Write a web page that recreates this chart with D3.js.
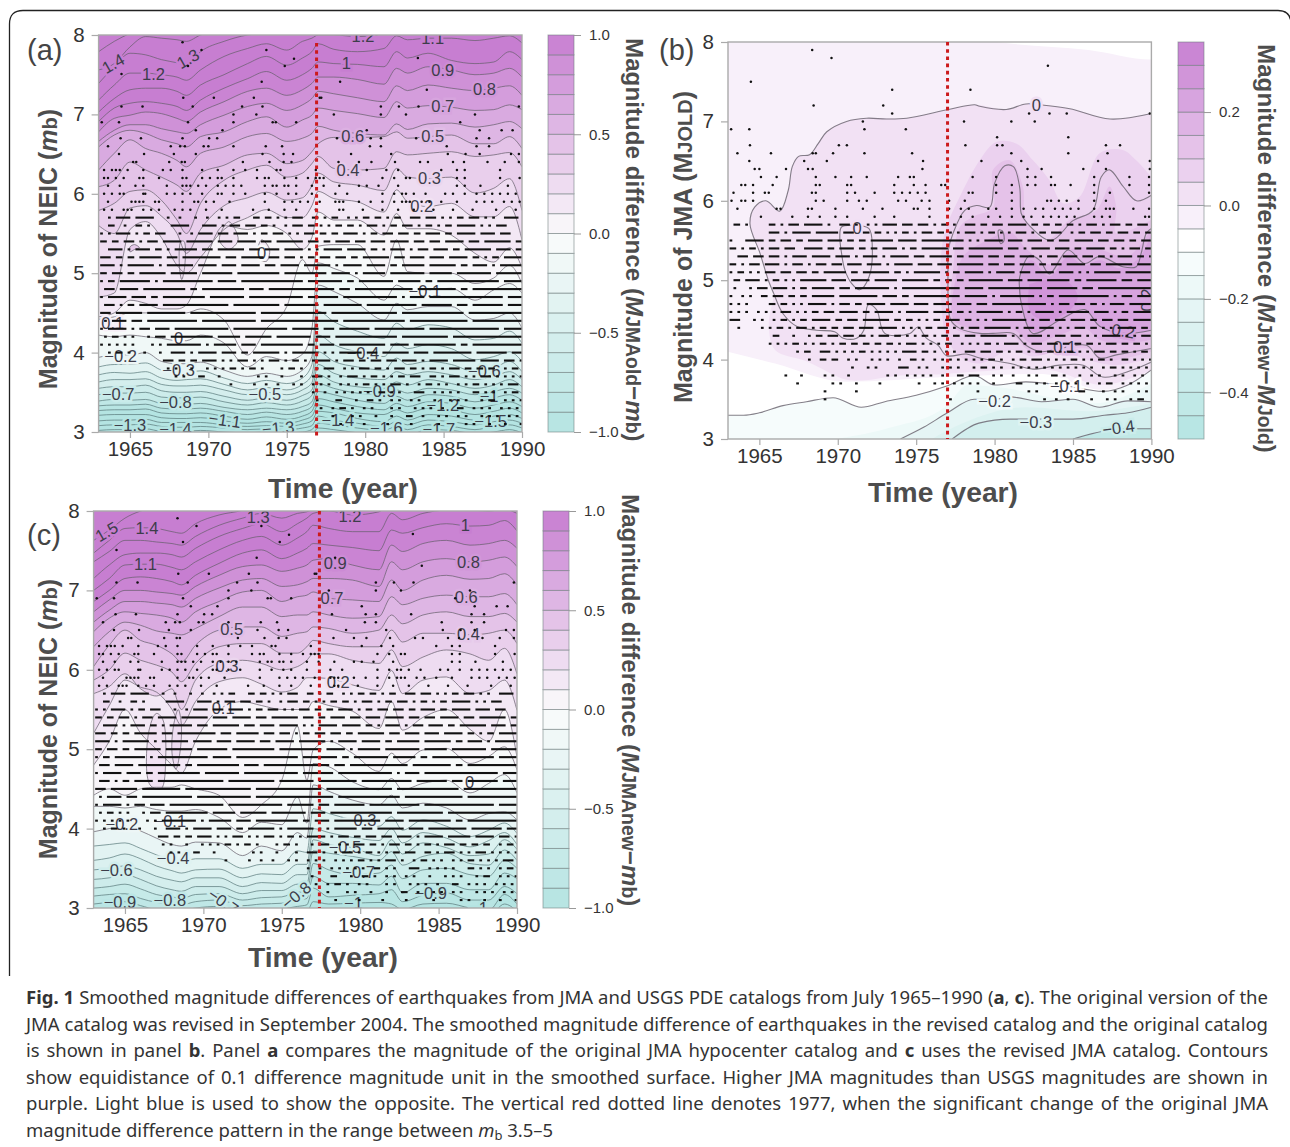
<!DOCTYPE html>
<html lang="en">
<head>
<meta charset="UTF-8">
<title>Fig. 1 Smoothed magnitude differences</title>
<script src="https://d3js.org/d3.v7.min.js"></script>
<style>
  html, body { margin: 0; background: #fff; }
  svg { display: block; }
  text { font-family: "Liberation Sans", Arial, sans-serif; }
  .tick text { fill: #333; }
  .caption text { font-family: "Noto Sans", sans-serif; font-size: 18.5px; fill: #333; }
</style>
</head>
<body>
<div id="chart"></div>
<script>
// ---- data ----
const yearTicks = [1965, 1970, 1975, 1980, 1985, 1990];
const magTicks = [3, 4, 5, 6, 7, 8];
const cols = [1963,1964,1965,1966,1967,1968,1968.6,1969.5,1971,1972.5,1973.7,1975,1976,1976.6,1977,1978,1979.5,1981.2,1982,1982.7,1984,1985.5,1987,1988.2,1989.2,1990];

// panel a: magnitude of each contour level at the years in cols
const levelsA = [1.5,1.4,1.3,1.2,1.1,1.0,0.9,0.8,0.7,0.6,0.5,0.4,0.3,0.2,0.1,0,-0.1,-0.2,-0.3,-0.4,-0.5,-0.6,-0.7,-0.8,-0.9,-1.0,-1.1,-1.2,-1.3,-1.4,-1.5,-1.6];
const magsA = [
[7.79,7.92,8.02,8.1,8.15,8.15,8.15,8.15,8.15,8.15,8.15,8.15,8.15,8.15,8.15,8.15,8.15,8.15,8.15,8.15,8.15,8.15,8.15,8.15,8.15,8.15],
[7.56,7.64,7.85,7.98,7.96,7.94,7.92,8.0,8.06,8.12,8.15,8.15,8.15,8.15,8.15,8.15,8.15,8.15,8.15,8.15,8.15,8.15,8.15,8.15,8.15,8.15],
[7.39,7.6,7.77,7.75,7.69,7.65,7.62,7.79,7.92,8.0,8.02,8.05,8.05,8.05,8.08,8.1,8.1,8.1,8.15,8.15,8.15,8.15,8.15,8.15,8.15,8.15],
[7.18,7.37,7.52,7.52,7.5,7.47,7.43,7.56,7.73,7.83,7.89,7.81,7.92,7.96,8.0,8.0,7.98,8.02,8.1,8.1,8.1,8.1,8.1,8.1,8.1,8.1],
[7.03,7.2,7.31,7.33,7.33,7.29,7.24,7.37,7.5,7.64,7.73,7.62,7.71,7.79,7.89,7.82,7.79,7.83,7.99,7.94,7.96,7.96,7.93,7.96,7.99,7.9],
[6.91,7.08,7.14,7.16,7.14,7.1,7.05,7.18,7.33,7.45,7.54,7.43,7.5,7.58,7.66,7.64,7.63,7.6,7.79,7.71,7.77,7.68,7.64,7.66,7.79,7.69],
[6.78,6.95,6.99,7.03,7.01,6.95,6.91,7.03,7.16,7.29,7.33,7.24,7.31,7.39,7.47,7.47,7.44,7.38,7.58,7.52,7.6,7.56,7.5,7.52,7.58,7.47],
[6.66,6.8,6.87,6.87,6.82,6.78,6.76,6.87,6.99,7.1,7.14,7.05,7.12,7.2,7.29,7.26,7.21,7.16,7.36,7.3,7.37,7.33,7.3,7.33,7.36,7.24],
[6.59,6.74,6.8,6.76,6.68,6.63,6.59,6.72,6.78,6.91,6.97,6.84,6.93,6.99,7.08,7.05,7.01,6.96,7.16,7.08,7.11,7.09,7.05,7.06,7.12,7.06],
[6.3,6.51,6.68,6.57,6.51,6.42,6.34,6.51,6.59,6.72,6.76,6.66,6.7,6.76,6.85,6.8,6.76,6.74,6.88,6.81,6.88,6.89,6.84,6.87,6.91,6.82],
[6.09,6.17,6.4,6.3,6.21,6.11,6.03,6.26,6.36,6.49,6.51,6.38,6.42,6.53,6.63,6.71,6.71,6.72,6.78,6.7,6.72,6.74,6.63,6.63,6.72,6.57],
[5.79,5.88,6.03,6.05,5.92,5.67,5.5,5.88,6.17,6.3,6.36,6.21,6.26,6.38,6.47,6.32,6.3,6.32,6.53,6.49,6.51,6.53,6.47,6.49,6.52,6.34],
[5.6,5.5,5.82,5.85,5.72,5.5,5.25,5.55,5.85,5.95,6.02,5.92,5.95,6.1,6.26,6.15,6.11,6.04,6.32,6.21,6.19,6.21,6.01,6.07,6.19,5.79],
[4.7,4.75,5.55,5.65,5.45,5.1,5.0,5.2,5.55,5.7,5.8,5.7,5.7,5.85,6.03,5.94,5.9,5.77,6.05,5.9,5.84,5.88,5.71,5.71,5.84,5.42],
[4.45,4.5,4.66,4.62,4.55,4.55,4.6,5.0,5.6,5.55,5.6,5.5,5.3,5.45,5.77,5.67,5.67,5.48,5.75,5.56,5.56,5.48,5.25,5.14,5.32,5.07],
[4.42,4.45,4.5,4.5,4.5,4.5,4.5,4.55,4.41,3.97,4.3,4.58,5.17,5.0,5.34,5.36,5.36,4.96,5.42,5.02,5.0,5.0,4.87,4.94,5.1,4.87],
[4.22,4.2,4.22,4.2,4.18,4.15,4.15,4.22,4.12,3.82,3.95,3.9,3.98,4.3,5.13,5.06,4.94,4.66,4.85,4.79,4.79,4.81,4.66,4.79,4.87,4.75],
[3.94,3.97,3.97,4.0,3.89,3.86,3.86,3.88,3.78,3.7,3.74,3.7,3.78,3.95,4.85,4.77,4.62,4.41,4.62,4.54,4.58,4.58,4.41,4.43,4.5,4.31],
[3.82,3.85,3.85,3.87,3.78,3.75,3.75,3.77,3.68,3.61,3.65,3.61,3.68,3.85,4.52,4.39,4.27,4.18,4.37,4.29,4.35,4.31,4.16,4.18,4.27,4.12],
[3.72,3.75,3.74,3.76,3.68,3.65,3.66,3.67,3.6,3.53,3.56,3.53,3.6,3.72,4.22,4.1,4.01,3.95,4.12,4.05,4.1,4.05,3.91,3.95,4.01,3.89],
[3.63,3.66,3.66,3.67,3.6,3.58,3.58,3.59,3.53,3.47,3.5,3.47,3.53,3.62,4.01,3.89,3.82,3.78,3.93,3.85,3.89,3.85,3.76,3.8,3.89,3.76],
[3.55,3.57,3.57,3.59,3.52,3.5,3.5,3.51,3.45,3.4,3.43,3.4,3.46,3.53,3.85,3.74,3.68,3.66,3.76,3.72,3.76,3.72,3.66,3.7,3.76,3.66],
[3.47,3.49,3.49,3.5,3.44,3.43,3.43,3.44,3.38,3.34,3.37,3.34,3.39,3.46,3.72,3.63,3.57,3.55,3.63,3.59,3.66,3.61,3.55,3.59,3.66,3.57],
[3.39,3.41,3.4,3.41,3.36,3.35,3.35,3.36,3.31,3.28,3.3,3.28,3.32,3.38,3.61,3.55,3.49,3.47,3.53,3.49,3.55,3.53,3.47,3.51,3.55,3.49],
[3.33,3.34,3.34,3.35,3.3,3.29,3.29,3.3,3.26,3.22,3.25,3.22,3.26,3.32,3.51,3.47,3.4,3.36,3.45,3.4,3.47,3.45,3.38,3.43,3.47,3.4],
[3.27,3.28,3.28,3.29,3.24,3.23,3.23,3.24,3.2,3.16,3.19,3.16,3.2,3.26,3.42,3.38,3.32,3.28,3.36,3.32,3.38,3.36,3.3,3.34,3.38,3.32],
[3.21,3.22,3.22,3.22,3.18,3.17,3.17,3.18,3.14,3.11,3.13,3.11,3.15,3.2,3.34,3.3,3.24,3.22,3.28,3.24,3.3,3.28,3.22,3.26,3.3,3.24],
[3.14,3.15,3.15,3.16,3.12,3.12,3.12,3.12,3.09,3.07,3.08,3.07,3.1,3.14,3.26,3.24,3.17,3.13,3.2,3.15,3.22,3.2,3.15,3.2,3.22,3.17],
[3.08,3.09,3.09,3.1,3.07,3.06,3.06,3.07,3.05,3.03,3.04,3.03,3.05,3.08,3.2,3.15,3.11,3.07,3.13,3.09,3.15,3.13,3.09,3.13,3.15,3.11],
[3.02,3.03,3.03,3.04,3.01,3.01,3.01,3.02,3.0,2.99,3,2.99,3,3.03,3.11,3.09,3.05,3.02,3.07,3.03,3.09,3.07,3.03,3.07,3.09,3.05],
[2.96,2.97,2.97,2.98,2.95,2.95,2.95,2.96,2.95,2.94,2.95,2.94,2.95,2.97,3.05,3.03,2.99,2.96,3.0,2.96,3.03,3.02,2.98,3.0,3.03,2.99],
[2.9,2.9,2.9,2.9,2.9,2.9,2.9,2.9,2.9,2.9,2.9,2.9,2.9,2.92,2.99,2.98,2.94,2.92,2.95,2.92,2.97,2.96,2.93,2.95,2.97,2.94]
];
const islandsA = [
  [0.35, [[1965,5.27],[1965.3,5.3],[1965.6,5.32],[1965.3,5.36],[1965,5.33]]],
  [0.2, [[1968.3,4.92],[1968.5,5.1],[1968.45,5.4],[1968.25,5.4],[1968.15,5.1]]],
  [0.15, [[1970.7,5.42],[1971.3,5.3],[1971.9,5.42],[1971.3,5.65]]],
  [0.1, [[1973.1,5.2],[1973.7,5.15],[1973.9,5.3],[1973.4,5.42]]]
];

// panel c
const levelsC = [1.5,1.4,1.3,1.2,1.1,1.0,0.9,0.8,0.7,0.6,0.5,0.4,0.3,0.2,0.1,0,-0.1,-0.2,-0.3,-0.4,-0.5,-0.6,-0.7,-0.8,-0.9,-1.0,-1.1];
const magsC = [
[7.63,7.76,7.91,8.0,8.05,8.1,8.1,8.1,8.15,8.15,8.15,8.15,8.15,8.15,8.15,8.15,8.15,8.15,8.15,8.15,8.15,8.15,8.15,8.15,8.15,8.15],
[7.47,7.63,7.78,7.79,7.78,7.74,7.72,7.84,7.95,8.01,8.1,8.1,8.1,8.1,8.1,8.15,8.15,8.15,8.15,8.15,8.15,8.15,8.15,8.15,8.15,8.15],
[7.36,7.49,7.63,7.63,7.61,7.59,7.57,7.68,7.82,7.91,7.97,7.91,7.97,7.99,8.02,8.1,8.1,8.1,8.1,8.1,8.1,8.1,8.1,8.1,8.1,8.1],
[7.15,7.32,7.45,7.47,7.47,7.45,7.42,7.53,7.68,7.78,7.84,7.74,7.84,7.91,7.97,8.0,7.95,7.99,8.1,8.1,8.1,8.1,8.1,8.1,8.1,8.1],
[7.0,7.15,7.32,7.33,7.33,7.29,7.26,7.36,7.51,7.63,7.68,7.57,7.66,7.74,7.82,7.78,7.74,7.74,7.97,7.89,7.97,8.01,8.01,8.0,8.02,7.97],
[6.86,7.0,7.15,7.17,7.15,7.11,7.07,7.19,7.34,7.47,7.51,7.4,7.47,7.53,7.59,7.57,7.54,7.5,7.76,7.72,7.79,7.84,7.81,7.82,7.88,7.75],
[6.73,6.88,7.0,7.0,6.98,6.96,6.94,7.05,7.19,7.3,7.32,7.24,7.28,7.32,7.38,7.4,7.32,7.26,7.57,7.49,7.59,7.63,7.57,7.59,7.63,7.53],
[6.6,6.75,6.86,6.86,6.84,6.82,6.79,6.9,7.03,7.13,7.15,7.05,7.07,7.11,7.15,7.15,7.13,7.05,7.36,7.26,7.36,7.4,7.36,7.38,7.42,7.3],
[6.48,6.65,6.73,6.71,6.69,6.65,6.6,6.73,6.86,6.98,7.0,6.86,6.92,6.94,6.98,6.9,6.88,6.86,7.13,7.0,7.13,7.19,7.14,7.15,7.21,7.07],
[6.29,6.48,6.6,6.56,6.49,6.46,6.44,6.52,6.67,6.79,6.79,6.67,6.69,6.69,6.73,6.69,6.65,6.67,6.92,6.82,6.9,6.94,6.92,6.92,6.96,6.82],
[6.04,6.31,6.5,6.37,6.31,6.2,6.1,6.31,6.5,6.54,6.54,6.42,6.46,6.48,6.54,6.52,6.46,6.5,6.69,6.58,6.69,6.73,6.67,6.67,6.71,6.6],
[5.87,6.0,6.21,6.12,6.06,5.97,5.85,6.08,6.29,6.33,6.33,6.21,6.21,6.29,6.37,6.33,6.29,6.29,6.5,6.35,6.46,6.46,6.44,6.46,6.5,6.33],
[5.7,5.79,5.95,5.76,5.67,5.76,5.5,5.87,6.08,6.12,6.08,6.0,6.04,6.12,6.2,6.2,6.12,6.08,6.25,6.04,6.16,6.25,6.2,6.12,6.27,5.95],
[5.2,5.55,5.87,5.78,5.72,5.5,5.3,5.6,5.85,5.9,5.82,5.72,5.78,5.9,5.9,5.89,5.81,5.74,5.99,5.7,5.87,5.91,5.7,5.74,5.87,5.49],
[4.8,5.1,5.5,5.2,5.0,4.8,4.7,5.1,5.5,5.6,5.55,5.5,5.5,5.5,5.6,5.55,5.48,5.26,5.6,5.24,5.4,5.5,5.25,5.1,5.5,4.9],
[4.42,4.5,4.42,4.5,4.52,4.52,4.55,4.5,4.42,4.14,4.3,4.61,5.29,4.61,4.99,5.1,4.95,4.72,4.95,4.82,4.99,5.01,4.82,4.91,5.03,4.74],
[4.28,4.28,4.26,4.28,4.24,4.22,4.22,4.24,4.14,3.95,4.08,4.05,4.4,4.07,4.82,4.78,4.59,4.49,4.63,4.49,4.57,4.61,4.45,4.57,4.68,4.45],
[3.96,4.0,4.03,3.97,3.88,3.8,3.78,3.83,3.82,3.66,3.78,3.72,3.95,3.88,4.55,4.47,4.36,4.3,4.42,4.26,4.32,4.26,4.11,4.19,4.21,4.11],
[3.78,3.8,3.82,3.75,3.67,3.6,3.58,3.62,3.62,3.5,3.55,3.55,3.72,3.7,4.25,4.19,4.11,4.03,4.15,3.98,4.11,4.03,3.9,3.98,4.07,3.94],
[3.6,3.63,3.68,3.62,3.53,3.47,3.44,3.48,3.49,3.38,3.43,3.42,3.55,3.55,4.0,3.95,3.89,3.85,4.0,3.82,3.95,3.88,3.77,3.85,3.95,3.8],
[3.48,3.5,3.53,3.48,3.4,3.35,3.33,3.38,3.38,3.27,3.32,3.31,3.42,3.42,3.86,3.8,3.76,3.66,3.86,3.68,3.82,3.76,3.66,3.68,3.86,3.74],
[3.36,3.38,3.42,3.36,3.28,3.23,3.21,3.27,3.27,3.18,3.22,3.22,3.3,3.3,3.72,3.69,3.65,3.6,3.71,3.54,3.65,3.69,3.56,3.54,3.73,3.6],
[3.25,3.27,3.3,3.24,3.17,3.14,3.12,3.17,3.18,3.1,3.13,3.14,3.2,3.2,3.56,3.48,3.42,3.44,3.54,3.37,3.48,3.5,3.42,3.4,3.6,3.5],
[3.15,3.17,3.18,3.12,3.07,3.05,3.04,3.08,3.1,3.03,3.05,3.06,3.1,3.12,3.4,3.31,3.31,3.29,3.4,3.19,3.31,3.31,3.23,3.23,3.44,3.37],
[3.05,3.07,3.08,3.03,2.98,2.97,2.97,3.0,3.02,2.97,2.98,2.99,3.02,3.04,3.25,3.14,3.16,3.18,3.23,3.08,3.16,3.19,3.1,3.1,3.27,3.18],
[2.95,2.96,2.97,2.95,2.92,2.92,2.92,2.93,2.94,2.92,2.93,2.93,2.95,2.95,3.08,3.05,3.06,3.07,3.05,2.98,3.05,3.06,3.0,2.97,3.17,3.05],
[2.88,2.88,2.88,2.88,2.88,2.88,2.88,2.88,2.88,2.88,2.88,2.88,2.88,2.88,2.97,2.95,2.95,2.95,2.95,2.9,2.95,2.95,2.92,2.9,3.05,2.96]
];
const islandsC = [
  [0.2, [[1968.25,4.75],[1968.5,4.95],[1968.6,5.3],[1968.4,5.5],[1968.1,5.3],[1968,4.95]]],
  [0.15, [[1966.6,4.55],[1967.3,4.5],[1967.6,4.9],[1967.4,5.38],[1967,5.45],[1966.5,5.2]]]
];

// panel b: contour lines as [year, magnitude]
const zeroLineB = [[1990,7.1],[1987.36,7.03],[1984.8,7.16],[1983.3,7.2],[1982,7.22],[1980.75,7.15],[1979.05,7.19],[1978.73,7.21],[1977.05,7.15],[1974.4,7.04],[1973.1,7.03],[1971.83,7.04],[1970.56,7.0],[1969.3,6.87],[1968.75,6.72],[1968.2,6.58],[1967.5,6.56],[1967.1,6.43],[1966.84,6.13],[1966.3,5.87],[1965.42,6.0],[1964.7,5.92],[1964.4,5.71],[1965.04,5.34],[1965.57,5.0],[1965.9,4.84],[1966.5,4.58],[1967.37,4.42],[1968.65,4.37],[1969.8,4.35],[1970.35,4.27],[1971.2,4.27],[1971.66,4.37],[1971.94,4.69],[1972.47,4.63],[1973,4.33],[1974.6,4.33],[1975.12,4.41],[1975.65,4.27],[1976.4,4.18],[1976.93,4.05],[1978.2,4.07],[1979.05,4.02],[1981,3.95],[1982.45,3.88],[1984.15,3.93],[1985.65,3.93],[1986.9,3.78],[1988.8,3.87],[1990,3.97]];
const islandZeroB = [[1970.13,5.55],[1970.24,5.67],[1971.1,5.69],[1971.99,5.65],[1972.2,5.42],[1971.99,5.04],[1971.4,4.88],[1970.88,4.96],[1970.45,5.13],[1970.24,5.34]];
const tenthLineB = [[1990,6.07],[1989.05,6.0],[1988.2,6.18],[1987.33,6.39],[1986.8,6.3],[1986.27,5.88],[1985,5.75],[1983.6,5.5],[1982.03,5.73],[1981.7,5.84],[1981.6,6.17],[1981.2,6.43],[1980.65,6.44],[1980,6.22],[1979.7,5.92],[1978.84,5.94],[1978.1,5.88],[1977.35,5.59],[1977.05,5.38],[1977.03,5.13],[1977.05,4.71],[1977.2,4.5],[1977.8,4.39],[1979.05,4.33],[1979.9,4.33],[1981.2,4.33],[1982,4.18],[1982.9,4.1],[1983.75,4.12],[1985.85,4.18],[1986.7,4.02],[1987.76,4.06],[1990,4.14]];
const tinyLoopB = [[1980.25,5.63],[1980.5,5.62],[1980.6,5.5],[1980.4,5.46],[1980.25,5.55]];
const fifthLineB = [[1990,5.65],[1989.67,5.59],[1989.35,5.34],[1989.03,5.17],[1988.18,5.17],[1986.7,5.3],[1985.74,5.21],[1984.68,5.38],[1983.5,5.08],[1982.88,5.25],[1982.24,5.31],[1981.6,5.04],[1981.6,4.88],[1981.7,4.71],[1982.45,4.33],[1984.15,4.5],[1985.74,4.63],[1986.7,4.42],[1988.18,4.33],[1990,4.37]];
const minus1LineB = [[1963,3.3],[1964,3.3],[1965,3.33],[1966.5,3.42],[1968,3.47],[1969.7,3.52],[1971.5,3.4],[1973,3.47],[1975,3.55],[1977,3.67],[1978.7,3.8],[1980,3.68],[1982,3.72],[1984.5,3.67],[1986.9,3.6],[1988.5,3.68],[1990,3.87]];
const minus2LineB = [[1974,3],[1975.5,3.15],[1977,3.33],[1978.7,3.5],[1980,3.5],[1981,3.53],[1983,3.47],[1985,3.5],[1986.7,3.4],[1988.5,3.48],[1990,3.47]];
const minus3LineB = [[1977.3,3],[1979,3.2],[1981,3.25],[1985,3.25],[1987,3.3],[1988.5,3.33],[1990,3.4]];
const minus4LineB = [[1985,3.0],[1987,3.1],[1988.5,3.13],[1990,3.13]];

// panel b filled regions, value is the middle of the colour band
const fillValuesB = [0.025, 0.075, 0.125, 0.175, 0.225, 0.275];
const fillRegionsB = [
  [[1990,7.1],[1987.36,7.03],[1984.8,7.16],[1982,7.22],[1980.75,7.15],[1978.73,7.21],[1977.05,7.15],[1974.4,7.04],[1971.83,7.04],[1970.56,7.0],[1969.3,6.87],[1968.2,6.58],[1967.5,6.56],[1967.1,6.43],[1966.84,6.13],[1966.3,5.87],[1965.42,6.0],[1964.7,5.92],[1964.4,5.71],[1965.04,5.34],[1965.57,5.0],[1965.9,4.84],[1965.6,4.45],[1966,4.12],[1968,3.98],[1970.5,3.75],[1971.7,3.74],[1974,3.8],[1977,3.82],[1979,3.85],[1983.5,3.87],[1986.9,3.68],[1990,3.87]],
  [[1990,6.3],[1989.03,6.51],[1988.18,6.64],[1986.7,6.6],[1985.42,6.05],[1984.36,5.97],[1983.5,6.26],[1982.45,6.51],[1981.4,6.72],[1980.1,6.74],[1979.05,6.51],[1977.78,6.05],[1976.93,5.67],[1976.6,5.34],[1976.6,4.71],[1976.93,4.29],[1977.78,4.04],[1979.05,3.95],[1981,4.12],[1982.45,4.04],[1984.15,4.1],[1986.27,3.98],[1987.76,3.93],[1990,4.02]],
  [[1990,5.76],[1987.76,5.59],[1987.76,5.92],[1987.33,6.18],[1986.5,5.88],[1984.8,5.76],[1983.3,5.5],[1982,5.76],[1981.8,6.18],[1980.96,6.51],[1979.9,6.39],[1979.9,5.92],[1978.63,5.8],[1977.78,5.67],[1977.35,5.13],[1977.18,4.71],[1977.35,4.42],[1979.05,4.29],[1981.2,4.29],[1982,4.14],[1982.88,4.06],[1984.15,4.12],[1986.27,4.12],[1986.7,3.99],[1990,4.1]],
  [[1990,5.65],[1988.5,5.3],[1986.5,5.4],[1985,5.4],[1983.5,5.2],[1982,5.4],[1981,5.6],[1979.5,5.5],[1978,5.3],[1977.5,5],[1977.4,4.5],[1979,4.38],[1981.2,4.38],[1982.4,4.2],[1984,4.3],[1985.7,4.4],[1986.7,4.25],[1988.2,4.2],[1990,4.25]],
  [[1990,5.6],[1989.3,5.3],[1988,5.15],[1986.7,5.25],[1985.7,5.18],[1984.7,5.3],[1983.5,5.05],[1982.3,5.25],[1981.6,5.0],[1981.7,4.7],[1982.45,4.35],[1984.15,4.5],[1985.74,4.63],[1986.7,4.42],[1988.18,4.33],[1990,4.37]],
  [[1982.2,4.95],[1983.2,5.0],[1984.5,5.0],[1985.3,4.8],[1984.8,4.62],[1983.5,4.5],[1982.5,4.55],[1982.1,4.7]]
];
// lower part of panel b: value and upper edge, everything under the edge takes the colour
const lowerValuesB = [-0.075, -0.125, -0.175, -0.225, -0.275, -0.325, -0.425];
const lowerEdgesB = [
  [[1963,4.1],[1966,3.95],[1970.5,3.72],[1977,3.78],[1983,3.82],[1986.9,3.62],[1990,3.82]],
  minus1LineB,
  [[1969.9,3.0],[1973.5,3.15],[1976.9,3.41],[1978.3,3.68],[1979.9,3.66],[1986.3,3.45],[1990,3.7]],
  minus2LineB,
  [[1976,3],[1978,3.2],[1982,3.4],[1986,3.35],[1990,3.45]],
  minus3LineB,
  minus4LineB
];
const whiteCornerB = [[1978,8.05],[1981,7.98],[1986,7.9],[1990,7.78],[1990,8.05]];

// contour labels: text, year, magnitude, rotation
const labelsA = [["1.4",1963.93,7.64,-30],["1.3",1968.7,7.7,-30],["1.2",1966.5,7.5,0],["0.1",1963.9,4.37,0],["0",1968.1,4.18,0],["−0.2",1964.4,3.95,0],["−0.3",1968.1,3.78,0],["−0.7",1964.25,3.48,0],["−0.8",1967.9,3.38,0],["−0.5",1973.6,3.48,0],["−1.1",1971.05,3.15,8],["−1.3",1965,3.09,0],["−1.4",1967.9,3.03,0],["−1.3",1974.45,3.05,-5],["0",1973.4,5.25,0],["1.2",1979.86,7.98,0],["1.1",1984.3,7.96,0],["1",1978.8,7.64,0],["0.9",1984.95,7.56,0],["0.8",1987.6,7.32,0],["0.7",1984.95,7.1,0],["0.6",1979.2,6.72,0],["0.5",1984.3,6.72,0],["0.4",1978.9,6.3,0],["0.3",1984.1,6.19,0],["0.2",1983.6,5.84,0],["−0.1",1983.8,4.77,0],["−0.4",1979.86,3.99,0],["−0.6",1987.6,3.77,0],["−0.9",1980.9,3.51,0],["−1.2",1984.95,3.34,0],["−1",1987.9,3.45,0],["−1.5",1988,3.13,0],["−1.4",1978.26,3.15,0],["−1.6",1981.35,3.05,0],["−1.7",1984.7,3.03,0]];
const labelsB = [["0",1982.66,7.2,0],["0",1971.24,5.66,0],["0.2",1988.2,4.36,10],["0.1",1984.47,4.16,0],["−0.1",1984.57,3.66,0],["−0.2",1980,3.48,0],["−0.3",1982.63,3.21,0],["−0.4",1987.9,3.14,-8],["0.2",1989.75,4.75,-90]];
const labelsC = [["1.5",1963.83,7.74,-30],["1.4",1966.4,7.78,0],["1.3",1973.5,7.92,0],["1.1",1966.3,7.33,0],["0.5",1971.8,6.51,0],["0.3",1971.5,6.05,0],["0.1",1971.26,5.51,0],["−0.2",1964.8,4.06,0],["−0.1",1967.86,4.09,0],["−0.4",1968.07,3.63,0],["−0.6",1964.46,3.47,0],["−0.9",1964.68,3.07,0],["−0.8",1967.86,3.1,0],["−0.7",1971.26,3.08,35],["−0.8",1975.93,3.16,-40],["1.2",1979.35,7.94,0],["1",1986.7,7.82,0],["0.9",1978.4,7.34,0],["0.8",1986.9,7.36,0],["0.7",1978.2,6.9,0],["0.6",1986.76,6.92,0],["0.4",1986.9,6.45,0],["0.2",1978.6,5.84,0],["0",1986.97,4.59,0],["−0.3",1980,4.1,0],["−0.5",1979.03,3.77,0],["−0.7",1979.9,3.45,0],["−0.9",1984.5,3.19,0],["−1",1979.57,3.06,0],["−1",1987.55,3.0,0]];

// single events above the crowded rows [year, magnitude]
const sparseNeic = [[1968.35,7.91],[1969.56,7.81],[1973.7,7.81],[1975.46,7.7],[1974.87,7.61],[1968.7,7.61],[1964.46,7.51],[1973.4,7.41],[1968.4,7.21],[1970.35,7.21],[1972.9,7.21],[1977.1,7.21],[1964.46,7.1],[1965.8,7.1],[1969,7.1],[1972.15,7.1],[1973.45,7.1],[1971.6,7],[1973.06,7],[1963.2,6.9],[1964.3,6.9],[1968.7,6.9],[1971.6,6.9],[1974.1,6.9],[1974.3,6.9],[1975.6,6.9],[1969.2,6.8],[1970.9,6.8],[1964.4,6.7],[1965.7,6.7],[1968.35,6.7],[1970.05,6.7],[1970.56,6.7],[1963.6,6.6],[1967.6,6.6],[1968.2,6.6],[1968.5,6.6],[1969.7,6.6],[1970,6.6],[1971.6,6.6],[1973.66,6.6],[1974.7,6.6],[1964.3,6.5],[1965.9,6.5],[1967.8,6.5],[1969.2,6.5],[1973.45,6.5],[1974.8,6.5],[1975.4,6.5],[1965.2,6.4],[1965.4,6.4],[1967.5,6.4],[1968.3,6.4],[1968.5,6.4],[1972.2,6.4],[1973.9,6.4],[1974.8,6.4],[1975.3,6.4],[1983.36,7.71],[1978.4,7.41],[1983.93,7.31],[1977.2,7.21],[1981,7.1],[1982.15,7.1],[1983.4,7.1],[1989.8,7.1],[1978,7],[1981,7],[1982.6,7],[1987,7],[1986.06,6.9],[1987.3,6.8],[1980.1,6.8],[1988.7,6.8],[1989.4,6.8],[1978.2,6.7],[1980.35,6.7],[1981,6.7],[1983.25,6.7],[1987.1,6.7],[1987.9,6.7],[1980.3,6.6],[1981,6.6],[1985.2,6.6],[1987.1,6.6],[1987.9,6.6],[1979.1,6.5],[1981.66,6.5],[1985.27,6.5],[1986.4,6.5],[1987.3,6.5],[1989.3,6.5],[1989.8,6.5],[1978.3,6.4],[1979.6,6.4],[1980.4,6.4],[1981.9,6.4],[1983.5,6.4],[1984,6.4],[1985.6,6.4],[1986.3,6.4],[1987.8,6.4],[1988.9,6.4],[1989.8,6.4]];
const sparseB = [[1968.37,7.9],[1969.6,7.8],[1964.46,7.5],[1973.47,7.4],[1978.46,7.4],[1972.9,7.2],[1968.46,7.2],[1973.47,7.1],[1963.2,6.9],[1964.36,6.9],[1971.7,6.9],[1974.34,6.9],[1971.6,7],[1978.05,7],[1978.14,6.7],[1964.4,6.7],[1970.07,6.7],[1970.58,6.7],[1963.6,6.6],[1965.74,6.6],[1968.4,6.6],[1968.6,6.6],[1969.7,6.6],[1971.7,6.6],[1974.74,6.6],[1964.36,6.5],[1967.86,6.5],[1969.3,6.5],[1975.44,6.5],[1983.4,7.7],[1982.2,7.1],[1983.5,7.1],[1984.6,7.1],[1989.9,7.1],[1981.07,7],[1982.56,7],[1980.16,6.8],[1984.7,6.8],[1980.16,6.7],[1980.5,6.7],[1987.1,6.7],[1988,6.7],[1981.07,6.6],[1984.7,6.6],[1987.2,6.6],[1979.16,6.5],[1981.7,6.5],[1986.6,6.5],[1989.9,6.5],[1982.1,6.4],[1983,6.4],[1985.66,6.4],[1987.1,6.4],[1989.9,6.4],[1964.7,6.4],[1965,6.4],[1966.7,6.4],[1968.1,6.4],[1968.4,6.4],[1975.4,6.4]];

// rows with loose dots: magnitude, then quarter years counted from 1963
const dotRowMags = [6.3,6.2,6.1,6.0,5.9,5.8];
const dotRowsNeic = [
[1,3,4,5,7,11,16,18,21,26,30,34,37,40,45,46,55,68,73,76,87,91,93,102],
[1,2,4,6,10,11,15,21,22,26,28,30,31,34,40,42,43,47,50,53,55,56,57,72,75,78,79,91,93,102,107],
[2,5,9,11,17,21,22,23,25,27,30,32,34,36,42,44,45,47,48,50,54,57,61,66,68,71,76,91,93,97,104],
[1,3,5,6,11,11.5,17,19,21,23,26,30,31,34,37,42,45,48,50,54,60,63,72,75,77,78,80,83,88,90,93,96,98,100,102,104,106],
[2,8,9,10,11,14,15,21,24,25,27,29,33,42,47,49,51,53,56,60,61,62,66,69,72,75,77,78,79,82,84,87,91,96,98,100,103,105,107],
[1,3,6,7,8,11,13,15,19,21,23,27,31,39,43,47,50,55,61,62,67,72,76,80,85,90,95,101,106]
];
const dotRowsB = [
[8,12,22,27,31,35,43,46,47,62,68,76,78,82,93,102,107],
[3,4,6,11,22,23,30,31,42,47,50,54,55,68,72,76,78,82,83,87,93,102,107],
[1,6,9,10,21,22,30,32,37,42,44,46,48,50,61,62,68,72,93,97,107],
[0.5,3,4,6,22,24,30,33,35,43,45,49,51,56,60,72,81,82,84,86,89,93,96],
[2,12,13,20,21,27,34,39,47,48,51,56,59,61,66,68,72,75,78,80,83,85,87,89,93,96,97,98,103,107],
[8,16,20,23,27,30,37,42,51,59,62,66,69,72,75,77,80,82,84,86,88,93,95,97,106,107]
];

// crowded event rows, one character per quarter year from 1963, # = event
const rowMags = [5.7,5.6,5.5,5.4,5.3,5.2,5.1,5.0,4.9,4.8,4.7,4.6,4.5,4.4,4.3,4.2,4.1,4.0,3.9,3.8,3.7,3.6,3.5,3.4,3.3,3.2,3.1];
const rowsNeic = [
"..#.####.#####...#..#...#..#..#.#.##...##.##.#.#.###..##.#.##..#.#.##.##.#.##..###.###.#.#.##.###.#.#..####",
"..##..#..##.#.....#####...####.#.###.###.##.#..#.###.##.#.#.##.##.#.###.#.##.###.#.##.#.##.#####.#.#.###",
"#.#.####.#.##.###...#..#.####.###.####.#.##.###.#.#.###.##.##.####.#.##.###.###.##.####.##.#####.####.###",
"##.##.###.#.###.#####.#######.####.#####.###.#######.###.##.####.###.####.#####.###.###.#####.###.#######.####",
"..####.#.####.##.#.######.###.#######.###.####.#####.#.#.#####.#####.##.#.####.#.###.####.##.#######.####.###.",
"###.##.##.######.###.##########.###.######.###.###.#.##.###.###.##.#######.###.####.####.#####.##.#.##.#######",
"####.#.#######.#.#######.#####.####.#####.###.#####.#######.#.#####.#####.##.######.#######.##.####.#.########",
"##.###.##.#######.#######.########.###########.###########.#####.#.######.#########.######.#########.#########",
"#.##.########.#.#############.#####.################.#########.##.#########.######.##.################.########",
".###.#####.###########.##.###########.####.#################.###.###############.##########.##.################",
"#.#####.####.##.###########.#########.##############.########.##############.#.####.###################.#######",
".###.#.##.#####.#################.############.#########.##########.#############.########.###.########.#######",
"###.#######.##########.#################.#################.#################.################.#################",
".#.####.###.#############.##############.####################.################.###############.#################",
"#.#####.#.###.####.##############.##############.#######.###.########.#############.##################.#######",
".#.##.#.#...#.###.###########.######.#######.#########.####.################.############.#####################",
"#.#.#.#.#....#.#.#########.#.######.####.###########.##.####.############.#####.###########.##.################",
"..#.##.#...#...#..####.#.#####.####.##.#######.#.#######.#.#.######.###.#######.####.##########.########.#####",
"................###.##.##.####.#.#.###.#.#.###.#.##.#.#####.#.###.##.###.###.####.#.#####.######.#####.###.####",
".................#.#...#...#.#.#.##.#.##.#....#.##.#...#.###..#.#.###.##.#.###.##.#.##.#.###.##.##.##..#.##.##",
"...................#.#...##...#.........#.#...#....#..###.#..#.###.#.##.#.#.##.###..##.#.###.#.#.###.#.#.#.#.#",
".................................#.....#..#..#...#.#..#.#.#..#.#.#.##.#.#.###.#..#.##.#.#..#.#.##.#.#.#.###.##",
"......................................................#..#..#.#.#.#.#..##.#.#...###..#.#.#.#...##.#.#..#.##.#.",
".......................................................#....##...#..##.#..#.#..#.#...#...#.#.#...#.##..#.#.#.#",
"........................................................#..#.##.#..#.#....#.#...#.#.#..#...##..#.#.#..#.#.#.#.",
"...........................................................#....#.#...#...#...##..#...#.#..#.#...#.#.#..#.#....",
".............................................................#.....#.....#.....#......#......#.#...#...#...#..."
];
const rowMagsB = [5.7,5.6,5.5,5.4,5.3,5.2,5.1,5.0,4.9,4.8,4.7,4.6,4.5,4.4,4.3,4.2,4.1,4.0,3.9,3.8,3.7,3.6,3.5];
const rowsB = [
".##.#.....##.#.###.#####.#..###.#..#.#.####.###.###.#.##.#..###.##.###.#####.##.##.##.##.#.###.#.###.##.###.##",
"..........###.#.#####.######.###..##.##.#.#.##.#.###.##.#.#.###.#.##.#.#.###.#.##.###..#.##.###.##.###.##.#####",
"#...#####.##.###.##.####.####.##.##.######.#####.###########.#.#.#####.####.####.##.###.#####.###.###.##.######",
"##.#.##.#.###.###..#####.##.####.##.##.####.#.##.#######.###.#########.###.#.#####.####.##.#####.##.#.###.#####",
"..###.###.###.#.####.#####.####.#.####.#.#####.###.######.##.####.###.###.####.#.###.####.###.##.#.####.##.####",
"##.#.###.####.#.###.#.###.###.####.####.#.#####.####.####.#######.###.###.####.##.###.#####.###.#######.#######",
"#.##.#.#.###.###.###.##.######.##.#######.##.#.#######.#.##.#####.#.#####.###.#####.####.#.#.#######.#########",
".##.####.#.##.#.#.#######.####.#####.######.#######.##.##.##.#########.####.####.######.##.########.###.#######",
".#...#.###.####.#.##.######.###.#########.#.###############.#####.##############.########.###.################",
"#..#.#..##.###.##.##.######.##########.####.##.############.######.#.#########.#.##.#############.#.###.#######",
"#.#.#.....##.##.#.#.#####.#.###.##.#####.#####.####.#####.####.###.##############.#.###.###.##.#.####.########",
"#.#.#..#.#.#.###.#.#.##.###.#####.##.#####.#.######.#####.##.#.#######.#.##.#.#####.#.######.####.#.##.########",
"###...#.#..#.##.#.##.#####.##.###.#######.##.##.#.#.##.####.##.#.#.#########.#.###.###.####.##.###.###.########",
"..#.....#.#.##.#.###.#.##.##.###.####.#####.#.#.#.##.###.#.#.###.#######.#.###.####.#.#.###.##.#.#.#####.##.###",
"...........##...#...#.##.###.###.##.#.###.##.#.#.##.#.##.##.###.#######.#.#.####.#.###.###.#.#.#####.#.#.######",
"..........#.#.#.##.#.#.##.#.##.##.##.##.##.#.###.#.#.#.##..#.#.#.##.#.####.#.###.###.##.##.##.#.###.##.##.#.###",
".................#.##..###.#.#.#.##.#.#.#.#.####.##.#..#.#..###.###.##.#.##.#.##.##.#.##.#.#.###.##.##.#.##.###",
"....................#..##.##..#.#...#.#.#..#..##.#..#.#.#.#.#.#.#.##.#..#.##.###.#.#.#.##.#.#.##.#..##.#.#.#.##",
"...............................#...#.#.....###..#.#...#.#.#...#.##.#.#..#.#.#.#.#.#.#.#.#.#.#..#.##.#.#.#.#.#..",
"..............#...#.....#.#...#.........#.#..#.#.#.#..#...##.###...#.#..#...#.#...##.#...#..#.#...#.#..#.#..#.#.",
".................#........#.#...#.....#.........#...#.#..#.#.#.#...#.....##...#.#..#..#.#..#..#.##..#.#.#.#.##.#",
"........................#.......#..............................#............#.#.....#....##....#..#.#...#.#..#.",
"........................#...............................#.......................#..#..#.....#...#.#...#.##.....#"
];

const captionLines = [
  [["Fig. 1","b"],[" Smoothed magnitude differences of earthquakes from JMA and USGS PDE catalogs from July 1965–1990 (",""],["a","b"],[", ",""],["c","b"],["). The original version of the",""]],
  [["JMA catalog was revised in September 2004. The smoothed magnitude difference of earthquakes in the revised catalog and the original catalog",""]],
  [["is shown in panel ",""],["b","b"],[". Panel ",""],["a","b"],[" compares the magnitude of the original JMA hypocenter catalog and ",""],["c","b"],[" uses the revised JMA catalog. Contours",""]],
  [["show equidistance of 0.1 difference magnitude unit in the smoothed surface. Higher JMA magnitudes than USGS magnitudes are shown in",""]],
  [["purple. Light blue is used to show the opposite. The vertical red dotted line denotes 1977, when the significant change of the original JMA",""]],
  [["magnitude difference pattern in the range between ",""],["m","i"],["b","s"],[" 3.5–5",""]]
];

// ---- page ----
const svg = d3.select("#chart").append("svg").attr("width", 1290).attr("height", 1147);

svg.append("path")
  .attr("d", "M9.5,976V24Q9.5,10.5 23,10.5H1278Q1291,10.5 1291,24V976")
  .attr("fill", "none").attr("stroke", "#222").attr("stroke-width", 1.3);

const colourAC = d3.scaleLinear().domain([-1, 0, 1]).range(["#b4e4e2", "#fbfbfb", "#c77ed1"]).clamp(true);
const colourB = d3.scaleLinear().domain([-0.5, -0.075, 0.35]).range(["#b4e4e2", "#ffffff", "#c77ed1"]).clamp(true);

const stackLine = (levels, mags) => levels.map((lv, i) => ({
  level: lv,
  pts: mags[i].map((m, j) => [cols[j], m])
}));

function drawPanel(cfg) {
  const g = svg.append("g");
  const x = d3.scaleLinear().domain([1963, 1990]).range([cfg.left, cfg.left + 423.4]);
  const y = d3.scaleLinear().domain([3, 8]).range([cfg.top + 397, cfg.top]);
  const clipId = "clip" + cfg.name;

  g.append("clipPath").attr("id", clipId).append("rect")
    .attr("x", x(1963)).attr("y", y(8)).attr("width", x(1990) - x(1963)).attr("height", y(3) - y(8));

  const inner = g.append("g").attr("clip-path", `url(#${clipId})`);
  const monoLine = d3.line().x(d => x(d[0])).y(d => y(d[1])).curve(d3.curveMonotoneX);
  const roundLine = d3.line().x(d => x(d[0])).y(d => y(d[1])).curve(d3.curveCatmullRom.alpha(0.5));
  const closedLine = d3.line().x(d => x(d[0])).y(d => y(d[1])).curve(d3.curveCatmullRomClosed.alpha(0.5));

  inner.append("rect").attr("x", x(1963)).attr("y", y(8)).attr("width", x(1990) - x(1963)).attr("height", y(3) - y(8))
    .attr("fill", cfg.base);

  cfg.paint(inner, { x, y, monoLine, roundLine, closedLine });

  // contour labels sit on a patch of the local colour so the line breaks there
  inner.append("g").selectAll("text").data(cfg.labels).join("text")
    .attr("transform", d => `translate(${x(d[1])},${y(d[2])}) rotate(${d[3]})`)
    .attr("text-anchor", "middle").attr("dy", "0.35em")
    .attr("font-size", 16.5).attr("fill", "#3d3d4a")
    .attr("stroke", d => d3.color(cfg.labelBg(d[0])).formatHex()).attr("stroke-width", 5)
    .attr("paint-order", "stroke").text(d => d[0]);

  // events
  const stepYear = 0.25;
  const runs = [];
  cfg.rows.forEach((row, i) => {
    const re = /#+/g;
    let hit;
    while ((hit = re.exec(row))) runs.push({ m: cfg.rowMags[i], start: hit.index, len: hit[0].length });
  });
  inner.append("g").selectAll("rect").data(runs).join("rect")
    .attr("x", d => x(1963.1 + d.start * stepYear))
    .attr("y", d => y(d.m) - 1.05)
    .attr("width", d => x(1963 + d.len * stepYear) - x(1963) - 1.2)
    .attr("height", 2.1)
    .attr("fill", "#111");
  const loose = cfg.sparse.concat(...cfg.dotRows.map((row, i) => row.map(q => [1963.1 + q * stepYear, dotRowMags[i]])));
  inner.append("g").selectAll("circle").data(loose).join("circle")
    .attr("cx", d => x(d[0])).attr("cy", d => y(d[1])).attr("r", 1.25).attr("fill", "#111");

  // frame and axes
  g.append("rect").attr("x", x(1963)).attr("y", y(8)).attr("width", x(1990) - x(1963)).attr("height", y(3) - y(8))
    .attr("fill", "none").attr("stroke", "#aaa").attr("stroke-width", 1.4);

  const xAxis = g.append("g").attr("transform", `translate(0,${y(3)})`)
    .call(d3.axisBottom(x).tickValues(yearTicks).tickFormat(d3.format("d")).tickSize(6).tickPadding(3));
  const yAxis = g.append("g").attr("transform", `translate(${x(1963)},0)`)
    .call(d3.axisLeft(y).tickValues(magTicks).tickFormat(d3.format("d")).tickSize(7).tickPadding(7));
  [xAxis, yAxis].forEach(a => {
    a.select(".domain").remove();
    a.selectAll("line").attr("stroke", "#aaa").attr("stroke-width", 1.2);
    a.selectAll("text").attr("font-size", 20.5).attr("font-family", "Liberation Sans");
  });

  g.append("line").attr("x1", x(cfg.redYear)).attr("x2", x(cfg.redYear))
    .attr("y1", cfg.top + cfg.redFrom).attr("y2", cfg.top + cfg.redTo)
    .attr("stroke", "#cc1a1c").attr("stroke-width", 3).attr("stroke-dasharray", "3.6 3.6");

  // colour bar
  const barY = d3.scaleLinear().domain(cfg.barDomain).range([y(3), y(8)]);
  const bandEdges = d3.range(0, cfg.barBands + 1).map(i => cfg.barDomain[0] + (cfg.barDomain[1] - cfg.barDomain[0]) * i / cfg.barBands);
  const bar = g.append("g");
  bar.selectAll("rect").data(bandEdges.slice(0, -1)).join("rect")
    .attr("x", cfg.barX).attr("width", 26)
    .attr("y", (d, i) => barY(bandEdges[i + 1])).attr("height", (d, i) => barY(bandEdges[i]) - barY(bandEdges[i + 1]))
    .attr("fill", (d, i) => cfg.colour((bandEdges[i] + bandEdges[i + 1]) / 2))
    .attr("stroke", "#6c7a7a").attr("stroke-opacity", 0.55).attr("stroke-width", 1);
  const barAxis = bar.append("g").attr("transform", `translate(${cfg.barX + 26},0)`)
    .call(d3.axisRight(barY).tickValues(cfg.barTicks).tickFormat(d3.format(cfg.barFmt)).tickSize(7).tickPadding(8));
  barAxis.select(".domain").remove();
  barAxis.selectAll("line").attr("stroke", "#999");
  barAxis.selectAll("text").attr("font-size", 15).attr("font-family", "Liberation Sans");

  // titles
  g.append("text").attr("x", cfg.timeX).attr("y", cfg.timeY).attr("text-anchor", "middle")
    .attr("font-size", 28.2).attr("font-weight", "bold").attr("fill", "#4d4d4d").text("Time (year)");

  const yT = g.append("text").attr("transform", `translate(${cfg.magX},${cfg.magY}) rotate(-90)`)
    .attr("text-anchor", "middle").attr("font-size", 25).attr("font-weight", "bold").attr("fill", "#4d4d4d");
  cfg.magTitle.forEach(s => appendPart(yT, s));

  const bT = g.append("text").attr("transform", `translate(${cfg.barTitleX},${cfg.barTitleY}) rotate(90)`)
    .attr("font-size", 24.2).attr("font-weight", "bold").attr("fill", "#4d4d4d");
  cfg.barTitle.forEach(s => appendPart(bT, s));

  g.append("text").attr("x", cfg.tagX).attr("y", cfg.tagY).attr("font-size", 29).attr("fill", "#444").text(cfg.tag);
}

function appendPart(text, part) {
  const t = text.append("tspan").text(part[0]);
  if (part[1] === "i") t.attr("font-style", "italic");
  if (part[1] === "s") t.attr("font-size", "80%");
}

function paintStack(inner, s, levels, mags, colour, islands) {
  const lines = stackLine(levels, mags);
  const ups = lines.filter(d => d.level > 0).reverse();
  const downs = lines.filter(d => d.level < 0);
  const zero = lines.filter(d => d.level === 0);
  const fills = inner.append("g");
  const closeUp = d => s.monoLine(d.pts) + `L${s.x(1991)},${s.y(8.3)}L${s.x(1962)},${s.y(8.3)}Z`;
  const closeDown = d => s.monoLine(d.pts) + `L${s.x(1991)},${s.y(2.7)}L${s.x(1962)},${s.y(2.7)}Z`;
  zero.forEach(d => fills.append("path").attr("d", closeUp(d)).attr("fill", colour(0.05)));
  ups.forEach(d => fills.append("path").attr("d", closeUp(d)).attr("fill", colour(d.level + 0.05)));
  downs.forEach(d => fills.append("path").attr("d", closeDown(d)).attr("fill", colour(d.level - 0.05)));
  islands.forEach(d => fills.append("path").attr("d", s.closedLine(d[1])).attr("fill", colour(d[0] + 0.05)));
  const strokes = inner.append("g").attr("fill", "none").attr("stroke-width", 1);
  strokes.selectAll("path.c").data(lines).join("path").attr("class", "c")
    .attr("stroke", d => d.level < -0.2 ? "#5b7c7d" : "#66606c").attr("stroke-opacity", 0.72)
    .attr("d", d => s.monoLine(d.pts));
  strokes.selectAll("path.i").data(islands).join("path").attr("class", "i")
    .attr("stroke", "#66606c").attr("stroke-opacity", 0.72).attr("d", d => s.closedLine(d[1]));
}

const labelBgAC = text => {
  const v = parseFloat(text.replace("−", "-"));
  return colourAC(v);
};

drawPanel({
  name: "a", tag: "(a)", tagX: 27, tagY: 60, left: 98.6, top: 35, redYear: 1976.9, redFrom: 8, redTo: 403,
  base: colourAC(-0.05), colour: colourAC, labels: labelsA, labelBg: labelBgAC,
  rows: rowsNeic, rowMags: rowMags, sparse: sparseNeic, dotRows: dotRowsNeic,
  barX: 548, barDomain: [-1, 1], barBands: 20, barTicks: [-1, -0.5, 0, 0.5, 1], barFmt: ".1f",
  timeX: 343, timeY: 498, magX: 57, magY: 249, barTitleX: 626, barTitleY: 38,
  magTitle: [["Magnitude of NEIC ("], ["m", "i"], ["b", "s"], [")"]],
  barTitle: [["Magnitude difference ("], ["M", "i"], ["JMAold", "s"], ["−"], ["m", "i"], ["b", "s"], [")"]],
  paint: (inner, s) => paintStack(inner, s, levelsA, magsA, colourAC, islandsA)
});

drawPanel({
  name: "c", tag: "(c)", tagX: 27, tagY: 545, left: 93.6, top: 511, redYear: 1977.4, redFrom: 0, redTo: 397,
  base: colourAC(-0.05), colour: colourAC, labels: labelsC, labelBg: labelBgAC,
  rows: rowsNeic, rowMags: rowMags, sparse: sparseNeic, dotRows: dotRowsNeic,
  barX: 543, barDomain: [-1, 1], barBands: 20, barTicks: [-1, -0.5, 0, 0.5, 1], barFmt: ".1f",
  timeX: 323, timeY: 967, magX: 57, magY: 719, barTitleX: 622, barTitleY: 494,
  magTitle: [["Magnitude of NEIC ("], ["m", "i"], ["b", "s"], [")"]],
  barTitle: [["Magnitude difference ("], ["M", "i"], ["JMAnew", "s"], ["−"], ["m", "i"], ["b", "s"], [")"]],
  paint: (inner, s) => paintStack(inner, s, levelsC, magsC, colourAC, islandsC)
});

drawPanel({
  name: "b", tag: "(b)", tagX: 659, tagY: 60, left: 728, top: 42, redYear: 1977, redFrom: 0, redTo: 397,
  base: colourB(-0.025), colour: colourB, labels: labelsB,
  labelBg: t => {
    const v = parseFloat(t.replace("−", "-"));
    return colourB(v + 0.03);
  },
  rows: rowsB, rowMags: rowMagsB, sparse: sparseB, dotRows: dotRowsB,
  barX: 1178, barDomain: [-0.5, 0.35], barBands: 17, barTicks: [-0.4, -0.2, 0, 0.2], barFmt: ".1f",
  timeX: 943, timeY: 502, magX: 692, magY: 247, barTitleX: 1258, barTitleY: 44,
  magTitle: [["Magnitude of JMA (M"], ["JOLD", "s"], [")"]],
  barTitle: [["Magnitude difference ("], ["M", "i"], ["Jnew", "s"], ["−"], ["M", "i"], ["Jold", "s"], [")"]],
  paint: (inner, s) => {
    const fills = inner.append("g");
    fills.append("path").attr("d", s.monoLine(whiteCornerB) + "Z").attr("fill", "#fff");
    lowerEdgesB.forEach((edge, i) => {
      const first = edge[0], last = edge[edge.length - 1];
      fills.append("path")
        .attr("d", s.monoLine(edge) + `L${s.x(last[0])},${s.y(2.7)}L${s.x(first[0])},${s.y(2.7)}Z`)
        .attr("fill", colourB(lowerValuesB[i]));
    });
    fillRegionsB.forEach((pts, i) => {
      fills.append("path").attr("d", s.roundLine(pts) + "Z").attr("fill", colourB(fillValuesB[i]));
    });
    const strokes = inner.append("g").attr("fill", "none").attr("stroke", "#66606c").attr("stroke-opacity", 0.8).attr("stroke-width", 1.1);
    [zeroLineB, tenthLineB, fifthLineB].forEach(l => strokes.append("path").attr("d", s.roundLine(l)));
    [minus1LineB, minus2LineB, minus3LineB, minus4LineB].forEach(l => strokes.append("path").attr("d", s.monoLine(l)));
    [islandZeroB, tinyLoopB].forEach(l => strokes.append("path").attr("d", s.closedLine(l)));
  }
});

// caption, each full line is justified to the column width
const capLeft = 26, capRight = 1268, capBase = 1004, capStep = 26.6;
const cap = svg.append("g").attr("class", "caption");
captionLines.forEach((segs, i) => {
  const t = cap.append("text").attr("x", capLeft).attr("y", capBase + i * capStep);
  segs.forEach(s => {
    const sp = t.append("tspan").text(s[0]);
    if (s[1] === "b") sp.attr("font-weight", "bold");
    if (s[1] === "i") sp.attr("font-style", "italic");
    if (s[1] === "s") sp.attr("font-size", 13).attr("dy", 3);
  });
  if (i < captionLines.length - 1) {
    const words = segs.map(s => s[0]).join("").split(" ").length - 1;
    const extra = (capRight - capLeft - t.node().getComputedTextLength()) / words;
    t.style("word-spacing", extra + "px");
  } else {
    // text after the subscript goes back on the baseline
    t.selectAll("tspan").filter((d, j) => j === segs.length - 1).attr("dy", -3);
  }
});
</script>
</body>
</html>
